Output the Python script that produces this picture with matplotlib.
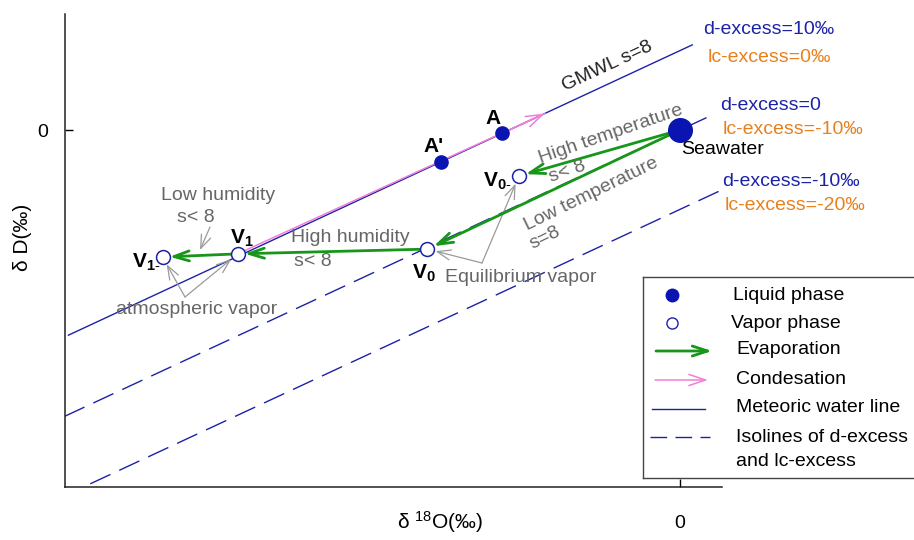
import numpy as np
import matplotlib.pyplot as plt

plt.rcParams['font.family'] = ['Liberation Sans', 'DejaVu Sans']
plt.rcParams['mathtext.fontset'] = 'custom'
plt.rcParams['mathtext.rm'] = 'Liberation Sans'
plt.rcParams['mathtext.bf'] = 'Liberation Sans:bold'
plt.rcParams['mathtext.it'] = 'Liberation Sans:italic'

# schematic isotope values (d18O, dD in permil)
seawater_x, seawater_y = 0.0, 0.0
liquid_names = ['A', "A'"]
liquid_x = [-1.30, -1.75]
liquid_y = [-0.4, -4.0]
vapor_names = ['V0-', 'V0', 'V1', 'V1-']
vapor_x = [-1.18, -1.85, -3.24, -3.79]
vapor_y = [-5.8, -15.0, -15.6, -16.0]

# lines dD = 8*d18O + d
slope = 8
d_excess = [10, 0, -10]
line_x0 = [-4.48, -4.51, -4.32]
line_x1 = [0.09, 0.19, 0.29]
cond_x1 = -0.99   # end of condensation arrow on the GMWL

BLUE = '#1c22a8'
PT = '#0a14b0'
GREEN = '#17961a'
PINK = '#f07fd8'
ORANGE = '#e8801c'
GRAY = '#666666'
AGRAY = '#9a9a9a'

fig = plt.figure(figsize=(9.14, 5.4), dpi=100)
ax = fig.add_axes([65/914, 53/540, 657/914, 473/540])
ax.set_xlim(-4.505, 0.308)
ax.set_ylim(-44.96, 14.61)
for s in ['top', 'right']:
    ax.spines[s].set_visible(False)
for s in ['left', 'bottom']:
    ax.spines[s].set_linewidth(1.1)
    ax.spines[s].set_color('#222222')
ax.set_xticks([0])
ax.set_yticks([0])
ax.tick_params(direction='in', length=6, width=1, labelsize=14)
ax.tick_params(axis='x', pad=20)
ax.tick_params(axis='y', pad=12)


def fp(x, y):
    return (x / 914, 1 - y / 540)


# meteoric water line (GMWL) and isolines
gx = np.array([line_x0[0], line_x1[0]])
ax.plot(gx, slope * gx + d_excess[0], color=BLUE, lw=1.0, zorder=2)
x1 = np.array([line_x0[1], seawater_x])
ax.plot(x1, slope * x1 + d_excess[1], color=BLUE, lw=1.0, dashes=(16, 7), zorder=2)
x1b = np.array([seawater_x, line_x1[1]])
ax.plot(x1b, slope * x1b + d_excess[1], color=BLUE, lw=1.0, zorder=2)
x2 = np.array([line_x0[2], line_x1[2]])
ax.plot(x2, slope * x2 + d_excess[2], color=BLUE, lw=1.0, dashes=(16, 7), zorder=2)

# condensation
ax.plot([vapor_x[2], cond_x1], [vapor_y[2], slope * cond_x1 + d_excess[0]],
        color=PINK, lw=1.1, zorder=3)
ax.annotate('', xy=(cond_x1, slope * cond_x1 + d_excess[0]),
            xytext=(cond_x1 - 0.3, slope * (cond_x1 - 0.3) + d_excess[0]),
            arrowprops=dict(arrowstyle='->,head_length=0.6,head_width=0.2',
                            mutation_scale=20, color=PINK, lw=1.1,
                            shrinkA=0, shrinkB=0), zorder=3)

# evaporation arrows
evap = [((seawater_x, seawater_y), (vapor_x[0], vapor_y[0])),
        ((seawater_x, seawater_y), (vapor_x[1], vapor_y[1])),
        ((vapor_x[1], vapor_y[1]), (vapor_x[2], vapor_y[2])),
        ((vapor_x[2], vapor_y[2]), (vapor_x[3], vapor_y[3]))]
for a, b in evap:
    ax.annotate('', xy=b, xytext=a,
                arrowprops=dict(arrowstyle='->,head_length=0.55,head_width=0.18',
                                mutation_scale=20, color=GREEN, lw=2.0,
                                shrinkA=4, shrinkB=5), zorder=4)

# points
ax.plot(seawater_x, seawater_y, 'o', ms=17, color=PT, zorder=6)
ax.plot(liquid_x, liquid_y, 'o', ms=9.5, color=PT, zorder=6, ls='none')
ax.plot(vapor_x, vapor_y, 'o', ms=10, mfc='white', mec=BLUE, mew=1.1,
        ls='none', zorder=6)

# point labels
lab_kw = dict(fontsize=15, fontweight='bold', ha='center', va='center')
fig.text(*fp(493, 118), 'A', **lab_kw)
fig.text(*fp(434, 147), "A'", **lab_kw)
fig.text(*fp(497, 181), r'$\mathbf{V_{0\text{-}}}$', fontsize=15, ha='center', va='center')
fig.text(*fp(424, 273), r'$\mathbf{V_0}$', fontsize=15, ha='center', va='center')
fig.text(*fp(242, 238), r'$\mathbf{V_1}$', fontsize=15, ha='center', va='center')
fig.text(*fp(146, 262), r'$\mathbf{V_{1\text{-}}}$', fontsize=15, ha='center', va='center')
fig.text(*fp(723, 149), 'Seawater', fontsize=14, ha='center', va='center')

# process texts
tk = dict(fontsize=14, color=GRAY, ha='center', va='center', rotation_mode='anchor')
fig.text(*fp(607, 66), 'GMWL s=8', fontsize=14, ha='center', va='center',
         rotation=25, rotation_mode='anchor', color='#222222')
fig.text(*fp(611, 134), 'High temperature', rotation=19, **tk)
fig.text(*fp(567, 172), 's< 8', rotation=19, **tk)
fig.text(*fp(591, 194), 'Low temperature', rotation=26, **tk)
fig.text(*fp(545, 238), 's=8', rotation=26, **tk)
fig.text(*fp(350, 238), 'High humidity', **tk)
fig.text(*fp(313, 261), 's< 8', **tk)
fig.text(*fp(218, 195), 'Low humidity', **tk)
fig.text(*fp(196, 218), 's< 8', **tk)
fig.text(*fp(197, 309), 'atmospheric vapor', **tk)
fig.text(*fp(521, 278), 'Equilibrium vapor', **tk)

# pointer arrows
gk = dict(arrowstyle='->,head_length=0.8,head_width=0.3', mutation_scale=12,
          color=AGRAY, lw=0.9, shrinkA=0, shrinkB=6)
for i, v in [(3, (185, 297)), (2, (185, 297)), (1, (482, 263)), (0, (482, 263))]:
    ax.annotate('', xy=(vapor_x[i], vapor_y[i]), xytext=fp(*v),
                textcoords='figure fraction', arrowprops=gk)
ax.annotate('', xy=fp(200, 250), xycoords='figure fraction', xytext=fp(210, 227),
            textcoords='figure fraction', arrowprops=dict(gk, shrinkB=0))

# d-excess / lc-excess labels
rk = dict(fontsize=14, ha='left', va='center')
fig.text(*fp(703, 30), 'd-excess=10‰', color=BLUE, **rk)
fig.text(*fp(708, 57), 'lc-excess=0‰', color=ORANGE, **rk)
fig.text(*fp(720, 106), 'd-excess=0', color=BLUE, **rk)
fig.text(*fp(723, 129), 'lc-excess=-10‰', color=ORANGE, **rk)
fig.text(*fp(722, 181), 'd-excess=-10‰', color=BLUE, **rk)
fig.text(*fp(725, 206), 'lc-excess=-20‰', color=ORANGE, **rk)

# axis titles
fig.text(*fp(440, 522), r'δ $^{18}$O(‰)', fontsize=15, ha='center', va='center')
fig.text(*fp(22, 237), 'δ D(‰)', fontsize=15, ha='center', va='center', rotation=90)

# legend drawn by hand in its own box
lg = fig.add_axes([643/914, 62/540, 280/914, 201/540])
lg.set_xlim(643, 923)
lg.set_ylim(478, 277)
lg.set_xticks([])
lg.set_yticks([])
for s in lg.spines.values():
    s.set_linewidth(1.0)
    s.set_color('#444444')
lg.plot(672, 295, 'o', ms=9, color=PT)
lg.plot(672, 323, 'o', ms=8, mfc='white', mec=BLUE, mew=1.0)
lg.annotate('', xy=(712, 351), xytext=(656, 351),
            arrowprops=dict(arrowstyle='->,head_length=0.55,head_width=0.18',
                            mutation_scale=20, color=GREEN, lw=2.0, shrinkA=0, shrinkB=0))
lg.annotate('', xy=(708, 380), xytext=(655, 380),
            arrowprops=dict(arrowstyle='->,head_length=0.6,head_width=0.2',
                            mutation_scale=20, color=PINK, lw=1.1, shrinkA=0, shrinkB=0))
lg.plot([652, 705], [409, 409], color=BLUE, lw=1.0)
lg.plot([650, 710], [437, 437], color=BLUE, lw=1.0, dashes=(12, 6))
ltk = dict(fontsize=14, ha='left', va='center')
lg.text(733, 295, 'Liquid phase', **ltk)
lg.text(731, 323, 'Vapor phase', **ltk)
lg.text(736, 350, 'Evaporation', **ltk)
lg.text(736, 379, 'Condesation', **ltk)
lg.text(736, 408, 'Meteoric water line', **ltk)
lg.text(736, 437, 'Isolines of d-excess', **ltk)
lg.text(736, 462, 'and lc-excess', **ltk)

fig.savefig('out.png', dpi=100)
